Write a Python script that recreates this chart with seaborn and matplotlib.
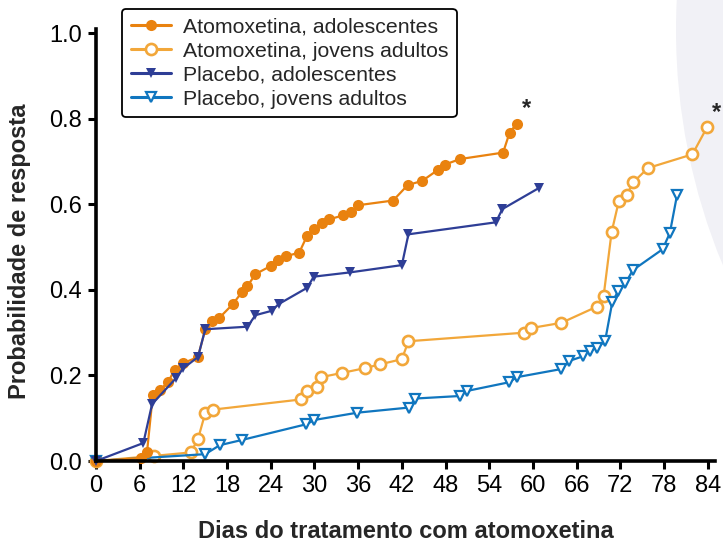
import matplotlib
matplotlib.use("Agg")
import matplotlib.pyplot as plt
from matplotlib.patches import Ellipse
from matplotlib.lines import Line2D
import seaborn as sns
import pandas as pd

# ---- data ----
ato_adol_x = [0, 6.2, 7.0, 7.8, 8.8, 9.9, 10.8, 12.0, 14.0, 15.0, 15.9, 16.9, 18.8, 20.0, 20.8, 21.9,
              24.0, 25.0, 26.1, 27.9, 29.0, 29.9, 31.0, 32.0, 33.9, 35.0, 36.0, 40.8, 42.8, 44.8,
              46.9, 47.9, 50.0, 55.9, 56.8, 57.8]
ato_adol_y = [0, 0.007, 0.02, 0.154, 0.166, 0.185, 0.213, 0.229, 0.243, 0.308, 0.327, 0.334, 0.367,
              0.394, 0.409, 0.437, 0.456, 0.469, 0.479, 0.487, 0.527, 0.542, 0.556, 0.565, 0.574,
              0.582, 0.598, 0.609, 0.645, 0.655, 0.680, 0.693, 0.706, 0.721, 0.768, 0.789]

ato_ya_x = [0, 8.0, 13.0, 14.0, 15.0, 16.0, 28.2, 29.0, 30.3, 30.9, 33.8, 36.9, 39.0, 42.0, 42.9,
            58.8, 59.8, 63.9, 68.8, 69.7, 70.8, 71.8, 72.9, 73.8, 75.8, 81.9, 83.9]
ato_ya_y = [0, 0.012, 0.020, 0.051, 0.112, 0.120, 0.144, 0.164, 0.174, 0.196, 0.206, 0.217, 0.226,
            0.238, 0.280, 0.300, 0.311, 0.323, 0.361, 0.385, 0.535, 0.608, 0.623, 0.652, 0.685,
            0.717, 0.780]

pla_adol_x = [0, 6.5, 7.7, 11.0, 12.0, 14.0, 15.0, 20.8, 21.9, 24.1, 25.1, 29.0, 29.9, 34.9, 42.0,
              42.9, 54.9, 55.8, 60.9]
pla_adol_y = [0, 0.042, 0.133, 0.194, 0.217, 0.243, 0.308, 0.314, 0.341, 0.351, 0.367, 0.405, 0.431,
              0.441, 0.458, 0.530, 0.558, 0.589, 0.639]

pla_ya_x = [0, 15.0, 17.0, 20.0, 28.9, 30.0, 35.9, 43.0, 43.8, 50.0, 51.0, 56.7, 57.8, 63.9, 65.0,
            66.9, 67.8, 68.8, 69.9, 70.9, 71.7, 72.7, 73.7, 77.8, 78.8, 79.8]
pla_ya_y = [0, 0.016, 0.037, 0.049, 0.086, 0.096, 0.113, 0.125, 0.146, 0.152, 0.164, 0.184, 0.196,
            0.215, 0.234, 0.245, 0.257, 0.265, 0.280, 0.372, 0.397, 0.415, 0.446, 0.495, 0.533, 0.623]

labels = ["Atomoxetina, adolescentes", "Atomoxetina, jovens adultos",
          "Placebo, adolescentes", "Placebo, jovens adultos"]
x_ticks = list(range(0, 85, 6))
y_ticks = [0.0, 0.2, 0.4, 0.6, 0.8, 1.0]
x_label = "Dias do tratamento com atomoxetina"
y_label = "Probabilidade de resposta"

# ---- style ----
sns.set_style("ticks")
plt.rcParams['font.family'] = ['Liberation Sans', 'DejaVu Sans']

C_ORANGE = "#E9820F"
C_LORANGE = "#F2A73A"
C_NAVY = "#2E3E96"
C_BLUE = "#1076BF"

fig = plt.figure(figsize=(7.23, 5.45), dpi=100)
# background decorative shape at right
bg = Ellipse((1290 / 723, 1 - 30 / 545), 2 * 614 / 723, 2 * 614 / 545,
             transform=fig.transFigure, facecolor="#F1F1F6", edgecolor="none", zorder=-10)
fig.patches.append(bg)
ax = fig.add_axes([96 / 723, 1 - 461 / 545, 619 / 723, 432 / 545])
ax.set_zorder(1)
ax.patch.set_alpha(0)

series = [
    (ato_ya_x, ato_ya_y, labels[1], dict(color=C_LORANGE, marker='o', markersize=8,
                                          markerfacecolor='white', markeredgecolor=C_LORANGE,
                                          markeredgewidth=1.9)),
    (pla_ya_x, pla_ya_y, labels[3], dict(color=C_BLUE, marker='v', markersize=7,
                                         markerfacecolor='white', markeredgecolor=C_BLUE,
                                         markeredgewidth=1.6)),
    (ato_adol_x, ato_adol_y, labels[0], dict(color=C_ORANGE, marker='o', markersize=8,
                                             markerfacecolor=C_ORANGE, markeredgecolor=C_ORANGE,
                                             markeredgewidth=0)),
    (pla_adol_x, pla_adol_y, labels[2], dict(color=C_NAVY, marker='v', markersize=7,
                                             markerfacecolor=C_NAVY, markeredgecolor=C_NAVY,
                                             markeredgewidth=0)),
]

handles = {}
for xs, ys, lab, kw in series:
    df = pd.DataFrame({"x": xs, "y": ys})
    sns.lineplot(data=df, x="x", y="y", ax=ax, sort=False, estimator=None, linewidth=1.6,
                 clip_on=False, legend=False, **kw)
    handles[lab] = Line2D([], [], linewidth=2.2, **kw)

ax.set_xlim(0, 85)
ax.set_ylim(0, 1.01)
ax.set_xticks(x_ticks)
ax.set_yticks(y_ticks)
ax.set_yticklabels([f"{v:.1f}" for v in y_ticks])
ax.tick_params(axis='both', labelsize=17, length=6, width=2.2, direction='out', pad=4, colors='black')
for s in ['left', 'bottom']:
    ax.spines[s].set_linewidth(2.6)
    ax.spines[s].set_color('black')
sns.despine(ax=ax)

ax.set_xlabel(x_label, fontsize=17, fontweight='bold', labelpad=17)
ax.set_ylabel(y_label, fontsize=17, fontweight='bold', labelpad=11)
ax.yaxis.set_label_coords(-0.105, 0.485)

# asterisks at series ends
ax.annotate("*", (ato_adol_x[-1], ato_adol_y[-1]), xytext=(7, 11), textcoords='offset points',
            ha='center', va='center', fontsize=17, fontweight='bold', annotation_clip=False)
ax.annotate("*", (ato_ya_x[-1], ato_ya_y[-1]), xytext=(6.5, 11), textcoords='offset points',
            ha='center', va='center', fontsize=17, fontweight='bold', annotation_clip=False)

leg = ax.legend([handles[l] for l in labels], labels, loc='upper left',
                bbox_to_anchor=(122 / 723, 1 - 9 / 545), bbox_transform=fig.transFigure,
                borderaxespad=0, fontsize=15.3, frameon=True, fancybox=True, framealpha=1,
                edgecolor='black', handlelength=1.9, handletextpad=0.55, labelspacing=0.24,
                borderpad=0.4)
leg.get_frame().set_linewidth(1.3)

fig.savefig("out.png", dpi=100)
